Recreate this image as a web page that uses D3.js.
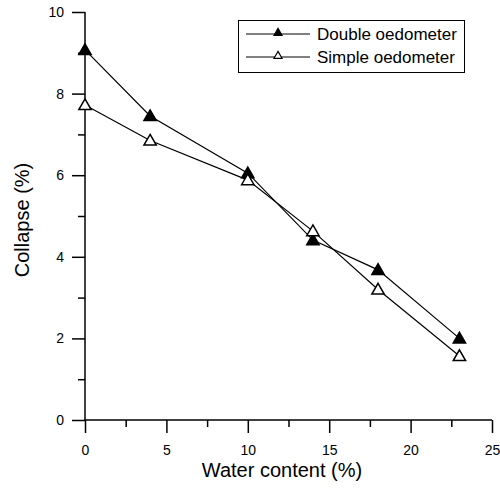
<!DOCTYPE html>
<html><head><meta charset="utf-8">
<script src="https://cdn.jsdelivr.net/npm/d3@7"></script>
<style>body{margin:0;background:#fff}svg{display:block;font-family:"Liberation Sans",Arial,sans-serif}</style>
</head><body><svg id="c" width="500" height="489"></svg>
<script>
const waterContent = [0, 4, 10, 14, 18, 23];
const doubleOedometer = [9.07, 7.45, 6.05, 4.41, 3.68, 2.0];
const simpleOedometer = [7.72, 6.85, 5.88, 4.63, 3.2, 1.57];
const seriesNames = ["Double oedometer", "Simple oedometer"];
const xTicks = [0, 5, 10, 15, 20, 25];
const yTicks = [0, 2, 4, 6, 8, 10];
const xTitle = "Water content (%)";
const yTitle = "Collapse (%)";

const svg = d3.select("#c");
const x = d3.scaleLinear().domain([0, 25]).range([85, 492]);
const y = d3.scaleLinear().domain([0, 10]).range([420, 12]);

// axes
const gx = svg.append("g").attr("transform", `translate(0,${y(0)})`)
  .call(d3.axisBottom(x).tickValues(xTicks).tickSize(13).tickPadding(12).tickFormat(d3.format("d")));
const gxm = svg.append("g").attr("transform", `translate(0,${y(0)})`)
  .call(d3.axisBottom(x).tickValues([2.5,7.5,12.5,17.5,22.5]).tickSize(7).tickFormat(""));
const gy = svg.append("g").attr("transform", `translate(${x(0)},0)`)
  .call(d3.axisLeft(y).tickValues(yTicks).tickSize(13).tickPadding(8).tickFormat(d3.format("d")));
const gym = svg.append("g").attr("transform", `translate(${x(0)},0)`)
  .call(d3.axisLeft(y).tickValues([1,3,5,7,9]).tickSize(7).tickFormat(""));
[gx,gxm,gy,gym].forEach(g=>{
  g.selectAll("path.domain").attr("stroke","#000").attr("stroke-width",1.5);
  g.selectAll("line").attr("stroke","#000").attr("stroke-width",1.5);
  g.selectAll("text").attr("fill","#000").style("font-size","14px").style("font-family","Liberation Sans, Arial, sans-serif");
});
gx.selectAll("path.domain").attr("d", `M${x(0)},0H${x(25)}`);
gy.selectAll("path.domain").attr("d", `M0,${y(0)}V${y(10)}`);
gxm.selectAll("path.domain").remove();
gym.selectAll("path.domain").remove();

svg.append("text").attr("x", 282).attr("y", 477).attr("text-anchor","middle")
  .style("font-size","20px").text(xTitle);
svg.append("text").attr("transform",`translate(29,${220}) rotate(-90)`).attr("text-anchor","middle")
  .style("font-size","20px").text(yTitle);

const tri = d3.symbol().type(d3.symbolTriangle).size(66);
const line = d3.line().x(d=>x(d[0])).y(d=>y(d[1]));
const series = [
  {name: seriesNames[0], vals: doubleOedometer, fill: "#000"},
  {name: seriesNames[1], vals: simpleOedometer, fill: "#fff"}
];
series.forEach(s=>{
  const pts = waterContent.map((w,i)=>[w, s.vals[i]]);
  svg.append("path").attr("d", line(pts)).attr("fill","none").attr("stroke","#000").attr("stroke-width",1.2);
});
series.forEach(s=>{
  waterContent.forEach((w,i)=>{
    svg.append("path").attr("d", tri).attr("transform",`translate(${x(w)},${y(s.vals[i])+1})`)
      .attr("fill", s.fill).attr("stroke","#000").attr("stroke-width",1.5);
  });
});

// legend
const lg = svg.append("g");
lg.append("rect").attr("x",238.5).attr("y",20.5).attr("width",226).attr("height",52)
  .attr("fill","#fff").attr("stroke","#000").attr("stroke-width",1);
const tri2 = d3.symbol().type(d3.symbolTriangle).size(28);
series.forEach((s,i)=>{
  const yy = 34 + i*23;
  lg.append("line").attr("x1",246).attr("x2",310).attr("y1",yy).attr("y2",yy).attr("stroke","#000").attr("stroke-width",1);
  lg.append("path").attr("d",tri2).attr("transform",`translate(278,${yy-1})`).attr("fill",s.fill).attr("stroke","#000").attr("stroke-width",1.2);
  lg.append("text").attr("x",317).attr("y",yy+6).style("font-size","17px").text(s.name);
});
</script></body></html>
